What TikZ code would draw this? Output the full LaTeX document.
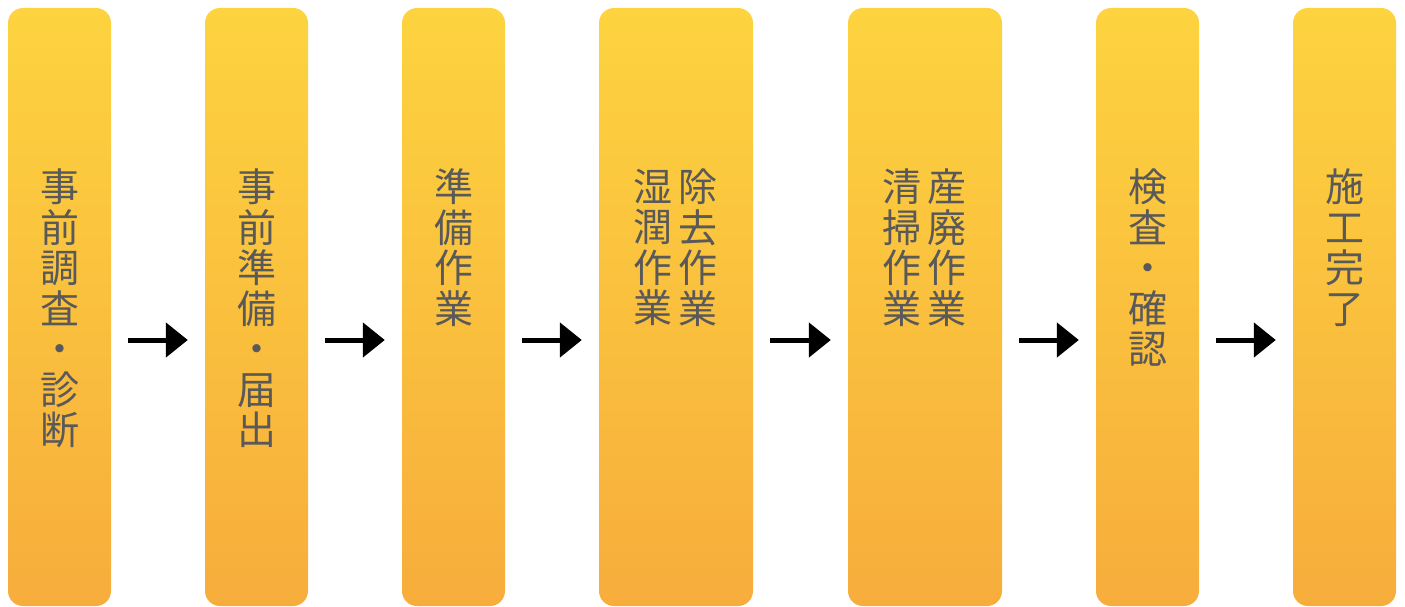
\documentclass[tikz,border=0pt]{standalone}
\usepackage{fontspec}
\setmainfont{Noto Sans CJK JP}
\usetikzlibrary{arrows.meta}
\definecolor{topc}{HTML}{FDD33F}
\definecolor{botc}{HTML}{F7AD3C}
\definecolor{txt}{HTML}{595959}
\tikzset{
  stepbox/.style={rounded corners=15pt, top color=topc, bottom color=botc, draw=none, minimum height=598pt, inner sep=0pt},
  vtext/.style={anchor=north, inner sep=0pt, align=center, text=txt, font=\fontsize{39}{40.5}\selectfont},
  flowarrow/.style={-{Triangle[length=22pt,width=34pt]}, line width=5pt, shorten <=17pt, shorten >=17pt, black}
}
\begin{document}
\begin{tikzpicture}[x=1pt,y=-1pt]
\useasboundingbox (0,0) rectangle (1405,607);
\node[stepbox, minimum width=103pt] (b1) at (59.5,307) {};
\node[stepbox, minimum width=103pt] (b2) at (256.5,307) {};
\node[stepbox, minimum width=103pt] (b3) at (453.5,307) {};
\node[stepbox, minimum width=154pt] (b4) at (676,307) {};
\node[stepbox, minimum width=154pt] (b5) at (925,307) {};
\node[stepbox, minimum width=103pt] (b6) at (1147.5,307) {};
\node[stepbox, minimum width=103pt] (b7) at (1344.5,307) {};

\node[vtext] (t1) at ([yshift=-161pt]b1.north) {事\\前\\調\\査\\・\\診\\断};
\node[vtext] (t2) at ([yshift=-161pt]b2.north) {事\\前\\準\\備\\・\\届\\出};
\node[vtext] (t3) at ([yshift=-161pt]b3.north) {準\\備\\作\\業};
\node[vtext] (t4a) at ([xshift=22pt,yshift=-161pt]b4.north) {除\\去\\作\\業};
\node[vtext] (t4b) at ([xshift=-23pt,yshift=-161pt]b4.north) {湿\\潤\\作\\業};
\node[vtext] (t5a) at ([xshift=22pt,yshift=-161pt]b5.north) {産\\廃\\作\\業};
\node[vtext] (t5b) at ([xshift=-23pt,yshift=-161pt]b5.north) {清\\掃\\作\\業};
\node[vtext] (t6) at ([yshift=-161pt]b6.north) {検\\査\\・\\確\\認};
\node[vtext] (t7) at ([yshift=-161pt]b7.north) {施\\工\\完\\了};

\foreach \a/\b in {b1/b2,b2/b3,b3/b4,b4/b5,b5/b6,b6/b7}
  \draw[flowarrow] ([yshift=-33pt]\a.east) -- ([yshift=-33pt]\b.west);
\end{tikzpicture}
\end{document}
